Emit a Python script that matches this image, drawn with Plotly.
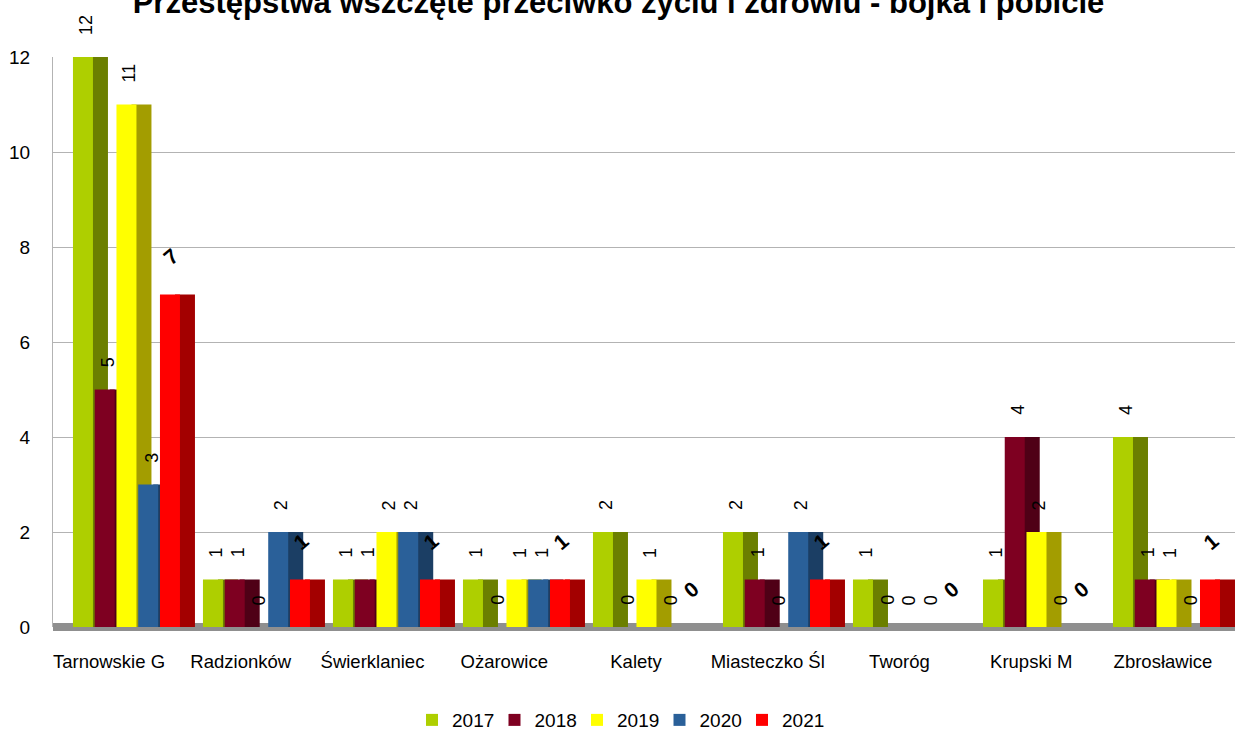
import plotly.graph_objects as go

categories = ["Tarnowskie G", "Radzionków", "Świerklaniec", "Ożarowice", "Kalety",
              "Miasteczko Śl", "Tworóg", "Krupski M", "Zbrosławice"]
years = ["2017", "2018", "2019", "2020", "2021"]
v2017 = [12, 1, 1, 1, 2, 2, 1, 1, 4]
v2018 = [5, 1, 1, 0, 0, 1, 0, 4, 1]
v2019 = [11, 0, 2, 1, 1, 0, 0, 2, 1]
v2020 = [3, 2, 2, 1, 0, 2, 0, 0, 0]
v2021 = [7, 1, 1, 1, 0, 1, 0, 0, 1]
series = [v2017, v2018, v2019, v2020, v2021]
y_ticks = [0, 2, 4, 6, 8, 10, 12]

face_colors = ["#aecf00", "#7e0021", "#ffff00", "#2a6099", "#ff0000"]
side_colors = ["#6b7f00", "#4f0016", "#a39d00", "#1b3e64", "#a30000"]

FONT = "Liberation Sans, Arial, sans-serif"
PX = 130.0                     # pixels per category
face_w = 20 / PX
slot = 21.75 / PX
first_off = -0.4115
side_shift = 15 / PX

fig = go.Figure()
xs = list(range(len(categories)))
annotations = []
for j, (yr, vals) in enumerate(zip(years, series)):
    off = first_off + j * slot
    fig.add_trace(go.Bar(x=xs, y=vals, offset=off + side_shift, width=face_w,
                         marker=dict(color=side_colors[j], line=dict(width=0)),
                         showlegend=False, hoverinfo="skip", cliponaxis=False))
    fig.add_trace(go.Bar(x=xs, y=vals, offset=off, width=face_w, name=yr,
                         marker=dict(color=face_colors[j], line=dict(width=0)),
                         cliponaxis=False))
    for i, v in enumerate(vals):
        cx = i + off + face_w / 2
        if yr == "2021":
            annotations.append(dict(x=cx + 1 / PX, y=v, xref="x", yref="y", text=str(v),
                                    showarrow=False, textangle=-40, yanchor="middle",
                                    xanchor="center", yshift=38,
                                    font=dict(family=FONT, size=21, color="black",
                                              weight="bold")))
        else:
            annotations.append(dict(x=cx + 3 / PX, y=v, xref="x", yref="y", text=str(v),
                                    showarrow=False, textangle=-90, yanchor="bottom",
                                    xanchor="center", yshift=20,
                                    font=dict(family=FONT, size=18, color="black")))

# invisible trace carrying the category label axis
fig.add_trace(go.Scatter(x=xs, y=[0] * len(xs), xaxis="x2", mode="markers",
                         marker=dict(opacity=0), showlegend=False, hoverinfo="skip"))

fig.update_layout(
    width=1237, height=731,
    barmode="overlay",
    paper_bgcolor="white", plot_bgcolor="white",
    margin=dict(l=53, r=2, t=57, b=104),
    font=dict(family=FONT, size=19, color="black"),
    title=dict(text="<b>Przestępstwa wszczęte przeciwko życiu i zdrowiu - bójka i pobicie</b>",
               x=0.5, xanchor="center", xref="container", yref="container",
               y=0.997, yanchor="middle",
               font=dict(family=FONT, size=31, color="black")),
    xaxis=dict(range=[-0.565, 8.527], showgrid=False, showticklabels=False,
               zeroline=False, showline=False, fixedrange=True),
    xaxis2=dict(range=[-0.425, 8.547], overlaying="x", anchor="y", side="bottom",
                tickmode="array", tickvals=xs, ticktext=categories,
                ticks="outside", ticklen=18, tickcolor="rgba(0,0,0,0)",
                showgrid=False, zeroline=False, showline=False,
                tickfont=dict(family=FONT, size=18.5, color="black")),
    yaxis=dict(range=[0, 12.001], tickmode="array", tickvals=y_ticks,
               ticks="outside", ticklen=18, tickcolor="rgba(0,0,0,0)",
               showgrid=True, gridcolor="#b3b3b3", gridwidth=1,
               showline=True, linecolor="#b3b3b3", linewidth=1,
               zeroline=True, zerolinecolor="#8f8f8f", zerolinewidth=8,
               tickfont=dict(family=FONT, size=19, color="black")),
    legend=dict(orientation="h", x=0.5, xanchor="center", xref="container",
                yref="container", y=0.015, yanchor="middle",
                font=dict(family=FONT, size=19), entrywidth=37.5,
                itemclick=False),
    annotations=annotations,
    showlegend=True,
)

fig.write_html("out.html", config={"displayModeBar": False},
               post_script="document.body.style.margin='0';")
